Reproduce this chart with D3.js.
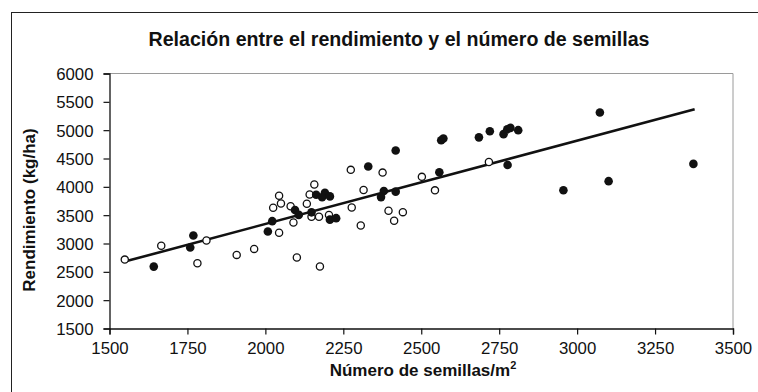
<!DOCTYPE html>
<html><head><meta charset="utf-8">
<script src="https://cdn.jsdelivr.net/npm/d3@7"></script>
<style>
html,body{margin:0;padding:0;background:#fff;}
svg{display:block;}
text{font-family:Arial,"Liberation Sans",sans-serif;fill:#111;}
</style></head>
<body>
<svg id="c" width="758" height="392"></svg>
<script>
// Data
const openX = [1549,1666,1782,1811,1908,1964,2044,2025,2044,2050,2081,2090,2101,2133,2142,2157,2148,2172,2175,2204,2277,2274,2306,2315,2376,2395,2413,2441,2502,2544,2717];
const openY = [2716,2959,2651,3053,2799,2905,3189,3631,3843,3707,3657,3371,2752,3702,3864,4042,3471,3471,2594,3505,3636,4300,3318,3944,4251,3578,3401,3553,4176,3938,4439];
const filledX = [1642,1759,1769,2008,2022,2095,2107,2148,2163,2191,2182,2207,2207,2227,2330,2380,2371,2418,2418,2558,2564,2571,2685,2720,2764,2776,2786,2811,2777,2956,3073,3101,3373];
const filledY = [2592,2929,3141,3212,3394,3590,3505,3550,3861,3893,3815,3831,3421,3447,4360,3925,3819,3915,4640,4256,4823,4853,4873,4980,4930,5015,5040,5000,4386,3940,5313,4100,4405];
const trendX = [1549,3377];
const trendY = [2681,5371];
const xTicks = [1500,1750,2000,2250,2500,2750,3000,3250,3500];
const yTicks = [1500,2000,2500,3000,3500,4000,4500,5000,5500,6000];
const titleText = "Relación entre el rendimiento y el número de semillas";
const xTitle = "Número de semillas/m";
const xTitleSup = "2";
const yTitle = "Rendimiento (kg/ha)";

const svg = d3.select("#c");
const L = 109.5, R = 733, T = 73.5, B = 328.5;
const x = d3.scaleLinear().domain([1500,3500]).range([L,R]);
const y = d3.scaleLinear().domain([1500,6000]).range([B,T]);

// outer chart border
svg.append("rect").attr("x",11.5).attr("y",12.5).attr("width",800).attr("height",500)
  .attr("fill","none").attr("stroke","#222").attr("stroke-width",1);

// plot frame (top/right gray)
svg.append("path").attr("d",`M${L},${T}H${R}V${B}`).attr("fill","none").attr("stroke","#9a9a9a").attr("stroke-width",1);

// axes
const xAxis = d3.axisBottom(x).tickValues(xTicks).tickSize(6).tickPadding(8).tickFormat(d3.format("d"));
const yAxis = d3.axisLeft(y).tickValues(yTicks).tickSize(6).tickPadding(10).tickFormat(d3.format("d"));
const gx = svg.append("g").attr("transform",`translate(0,${B})`).call(xAxis);
const gy = svg.append("g").attr("transform",`translate(${L},0)`).call(yAxis);
[gx,gy].forEach(g=>{
  g.select(".domain").attr("stroke","#111").attr("stroke-width",1.3);
  g.selectAll(".tick line").attr("stroke","#111").attr("stroke-width",1.2);
  g.selectAll(".tick text").attr("font-size",16.8).attr("fill","#222").attr("font-family","Arial, 'Liberation Sans', sans-serif");
});
gy.selectAll(".tick text").attr("dy","0.36em");

// trend line
svg.append("line")
  .attr("x1",x(trendX[0])).attr("y1",y(trendY[0]))
  .attr("x2",x(trendX[1])).attr("y2",y(trendY[1]))
  .attr("stroke","#111").attr("stroke-width",2.6);

// open points
svg.append("g").selectAll("circle").data(openX.map((v,i)=>[v,openY[i]])).join("circle")
  .attr("cx",d=>x(d[0])).attr("cy",d=>y(d[1])).attr("r",3.6)
  .attr("fill","#fff").attr("stroke","#111").attr("stroke-width",1.3);
// filled points
svg.append("g").selectAll("circle").data(filledX.map((v,i)=>[v,filledY[i]])).join("circle")
  .attr("cx",d=>x(d[0])).attr("cy",d=>y(d[1])).attr("r",4.3)
  .attr("fill","#111");

// titles
svg.append("text").attr("x",399).attr("y",46).attr("text-anchor","middle")
  .attr("font-size",19.6).attr("font-weight","bold").text(titleText);
const xt = svg.append("text").attr("x",423).attr("y",376).attr("text-anchor","middle")
  .attr("font-size",17).attr("font-weight","bold");
xt.append("tspan").text(xTitle);
xt.append("tspan").attr("font-size",11).attr("dy",-7).text(xTitleSup);
svg.append("text").attr("transform","translate(35,210) rotate(-90)").attr("text-anchor","middle")
  .attr("font-size",17).attr("font-weight","bold").text(yTitle);
</script>
</body></html>
